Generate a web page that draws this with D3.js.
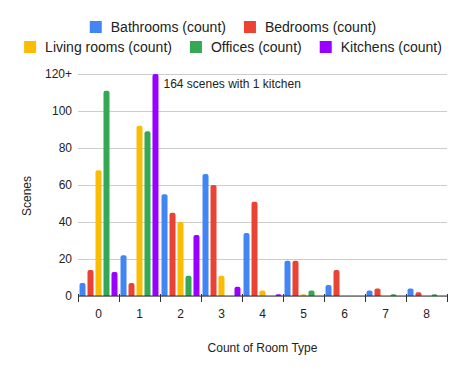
<!DOCTYPE html>
<html>
<head>
<meta charset="utf-8">
<script src="https://cdn.jsdelivr.net/npm/d3@7"></script>
<style>
  body { margin: 0; background: #fff; }
  svg { font-family: Arial, "Liberation Sans", sans-serif; }
</style>
</head>
<body>
<div id="chart"></div>
<script>
// data
const categories = ["0", "1", "2", "3", "4", "5", "6", "7", "8"];
const seriesNames = ["Bathrooms (count)", "Bedrooms (count)", "Living rooms (count)", "Offices (count)", "Kitchens (count)"];
const bathrooms   = [7, 22, 55, 66, 34, 19, 6, 3, 4];
const bedrooms    = [14, 7, 45, 60, 51, 19, 14, 4, 2];
const livingRooms = [68, 92, 40, 11, 3, 1, 0, 0, 0];
const offices     = [111, 89, 11, 0, 0, 3, 0, 1, 1];
const kitchens    = [13, 164, 33, 5, 1, 0, 0, 0, 0];
const yTicks = [0, 20, 40, 60, 80, 100, 120];
const yMax = 120;
const note = "164 scenes with 1 kitchen";

const colors = ["#4285f4", "#ea4335", "#fbbc04", "#34a853", "#9900ff"];
const seriesValues = [bathrooms, bedrooms, livingRooms, offices, kitchens];

const width = 466, height = 374;
const margin = {top: 74, right: 19, bottom: 78, left: 78};

const svg = d3.select("#chart").append("svg")
    .attr("width", width)
    .attr("height", height);

const x0 = d3.scaleBand()
    .domain(categories)
    .range([margin.left, width - margin.right])
    .padding(0);

const x1 = d3.scaleBand()
    .domain(seriesNames)
    .range([0, x0.bandwidth()])
    .paddingInner(0.25)
    .paddingOuter(0.19);

const y = d3.scaleLinear()
    .domain([0, yMax])
    .range([height - margin.bottom, margin.top]);

// gridlines + y labels
const yAxis = svg.append("g")
    .attr("transform", `translate(${margin.left},0)`)
    .call(d3.axisLeft(y)
        .tickValues(yTicks)
        .tickSize(-(width - margin.left - margin.right))
        .tickPadding(6)
        .tickFormat(d => d === yMax ? yMax + "+" : d));
yAxis.select(".domain").remove();
yAxis.selectAll(".tick line").attr("stroke", "#cccccc");
yAxis.selectAll(".tick text").attr("fill", "#222").style("font-size", "12px");

// bars with rounded tops
function barPath(x, w, yTop, yBot) {
  const r = Math.min(2, (yBot - yTop));
  return `M${x},${yBot}V${yTop + r}Q${x},${yTop} ${x + r},${yTop}H${x + w - r}Q${x + w},${yTop} ${x + w},${yTop + r}V${yBot}Z`;
}

const rows = categories.map((c, i) => ({
  cat: c,
  vals: seriesNames.map((s, j) => ({name: s, color: colors[j], v: seriesValues[j][i]}))
}));

const groups = svg.append("g").selectAll("g")
  .data(rows)
  .join("g")
    .attr("transform", d => `translate(${x0(d.cat)},0)`);

groups.selectAll("path")
  .data(d => d.vals.filter(v => v.v > 0))
  .join("path")
    .attr("fill", d => d.color)
    .attr("d", d => barPath(x1(d.name), x1.bandwidth(), y(Math.min(d.v, yMax)), y(0)));

// x axis baseline and boundary ticks
const xa = svg.append("g");
xa.append("line")
    .attr("x1", margin.left).attr("x2", width - margin.right)
    .attr("y1", y(0)).attr("y2", y(0))
    .attr("stroke", "#333").attr("stroke-width", 1);
const bounds = categories.map(c => x0(c)).concat([x0.range()[1]]);
xa.selectAll(".bt")
  .data(bounds)
  .join("line")
    .attr("x1", d => Math.round(d) + 0.5).attr("x2", d => Math.round(d) + 0.5)
    .attr("y1", y(0) - 2).attr("y2", y(0) + 6)
    .attr("stroke", "#333");
xa.selectAll(".xl")
  .data(categories)
  .join("text")
    .attr("x", d => x0(d) + x0.bandwidth() / 2)
    .attr("y", y(0) + 22)
    .attr("text-anchor", "middle")
    .attr("fill", "#222")
    .style("font-size", "12px")
    .text(d => d);

// axis titles
svg.append("text")
    .attr("x", (margin.left + width - margin.right) / 2)
    .attr("y", 352)
    .attr("text-anchor", "middle")
    .attr("fill", "#222")
    .style("font-size", "12px")
    .text("Count of Room Type");

svg.append("text")
    .attr("transform", "translate(31,196) rotate(-90)")
    .attr("text-anchor", "middle")
    .attr("fill", "#222")
    .style("font-size", "12px")
    .text("Scenes");

// annotation for the clipped kitchen bar
svg.append("text")
    .attr("x", x0("1") + x1(seriesNames[4]) + x1.bandwidth() + 5)
    .attr("y", y(yMax) + 14)
    .attr("fill", "#222")
    .style("font-size", "12px")
    .text(note);

// legend (two centered rows)
const legendRows = [[0, 1], [2, 3, 4]];
legendRows.forEach((row, ri) => {
  const ly = 27 + ri * 20;
  const lg = svg.append("g");
  let cx = 0;
  row.forEach(j => {
    const item = lg.append("g").attr("transform", `translate(${cx},0)`);
    item.append("rect")
        .attr("x", 0).attr("y", ly - 6)
        .attr("width", 12).attr("height", 12)
        .attr("fill", colors[j]);
    const t = item.append("text")
        .attr("x", 21).attr("y", ly + 5)
        .attr("fill", "#222")
        .style("font-size", "14px")
        .text(seriesNames[j]);
    cx += 21 + t.node().getComputedTextLength() + 18;
  });
  const w = cx - 18;
  lg.attr("transform", `translate(${(width - w) / 2},0)`);
});
</script>
</body>
</html>
